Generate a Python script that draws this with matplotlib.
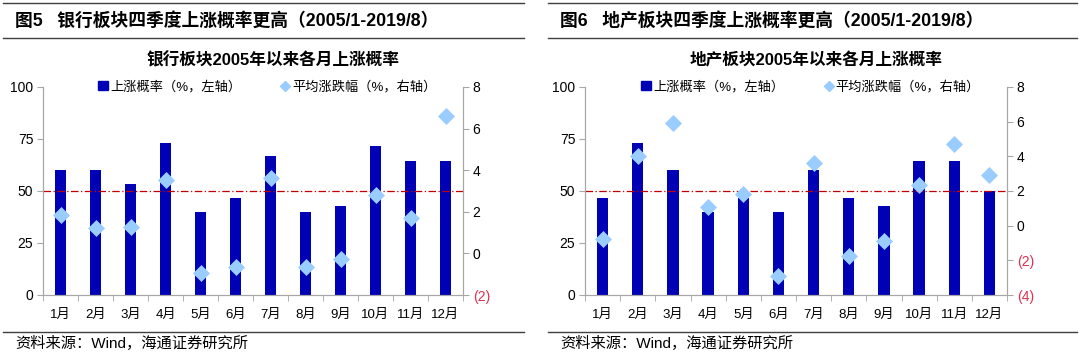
import numpy as np
import matplotlib.pyplot as plt
from matplotlib.lines import Line2D
from matplotlib.patches import Patch

plt.rcParams['font.family'] = ['Liberation Sans', 'Noto Sans CJK SC', 'DejaVu Sans']

# datos
meses = ['1月', '2月', '3月', '4月', '5月', '6月', '7月', '8月', '9月', '10月', '11月', '12月']

banco_prob = [60, 60, 53.3, 73.3, 40, 46.7, 66.7, 40, 42.9, 71.4, 64.3, 64.3]
banco_ret = [1.84, 1.23, 1.28, 3.52, -0.93, -0.64, 3.63, -0.67, -0.27, 2.83, 1.68, 6.61]

inmo_prob = [46.7, 73.3, 60, 40, 46.7, 40, 60, 46.7, 42.9, 64.3, 64.3, 50]
inmo_ret = [-0.76, 4.0, 5.95, 1.05, 1.8, -2.89, 3.6, -1.73, -0.87, 2.37, 4.7, 2.93]

titulos = ['图5   银行板块四季度上涨概率更高（2005/1-2019/8）',
           '图6   地产板块四季度上涨概率更高（2005/1-2019/8）']
subtitulos = ['银行板块2005年以来各月上涨概率', '地产板块2005年以来各月上涨概率']
fuente = '资料来源：Wind，海通证券研究所'

AZUL = '#0000b4'
CELESTE = '#99ccff'
ROJO = '#c00000'
GRIS = '#a6a6a6'
FAM = ['Liberation Sans', 'Noto Sans CJK SC']

W, H = 1080, 356
fig = plt.figure(figsize=(W / 100, H / 100), dpi=100)


def px(x0, y0, w, h):
    # rectangulo en pixeles (desde arriba) -> coordenadas de figura
    return [x0 / W, 1 - (y0 + h) / H, w / W, h / H]


def panel(x0, ax_x, ax_w, prob, ret, ylim2, ticks2, titulo, subtitulo, linea_x1):
    # lineas y textos del marco
    for yl in [3, 38, 332]:
        fig.add_artist(Line2D([x0 / W, linea_x1 / W], [1 - yl / H, 1 - yl / H], color='#404040', lw=1))
    fig.text((x0 + 12) / W, 1 - 21 / H, titulo, fontsize=12.8, fontweight='bold',
             va='center', ha='left', family=FAM)
    fig.text((ax_x + ax_w / 2 + 20) / W, 1 - 60 / H, subtitulo, fontsize=12, fontweight='bold',
             va='center', ha='center', family=FAM)
    fig.text((x0 + 12) / W, 1 - 343 / H, fuente, fontsize=11, va='center', ha='left',
             family=FAM)

    ax = fig.add_axes(px(ax_x, 87, ax_w, 208))
    x = np.arange(len(meses))
    ax.bar(x, prob, width=0.32, color=AZUL, zorder=2)
    ax.axhline(50, color=ROJO, lw=0.9, ls=(0, (6, 2, 1, 2)), zorder=3)
    ax.set_xlim(-0.5, len(meses) - 0.5)
    ax.set_ylim(0, 100)
    ax.set_yticks([0, 25, 50, 75, 100])
    ax.set_xticks(x)
    ax.set_xticklabels(meses, fontsize=9.5, family=FAM)
    ax.set_xticks(np.arange(-0.5, len(meses)), minor=True)
    ax.tick_params(axis='x', which='major', length=0, pad=10)
    ax.tick_params(axis='x', which='minor', length=4, color=GRIS, direction='out')
    ax.tick_params(axis='y', length=4, color=GRIS, labelsize=10, pad=3)
    ax.spines['top'].set_visible(False)
    for s in ['left', 'right', 'bottom']:
        ax.spines[s].set_color(GRIS)

    ax2 = ax.twinx()
    ax2.scatter(x, ret, marker='D', s=75, color=CELESTE, zorder=4, linewidths=0)
    ax2.set_ylim(*ylim2)
    ax2.set_yticks(ticks2)
    ax2.set_yticklabels(['(%d)' % -t if t < 0 else '%d' % t for t in ticks2])
    for lab, t in zip(ax2.get_yticklabels(), ticks2):
        if t < 0:
            lab.set_color('#e03050')
    ax2.tick_params(axis='y', length=4, color=GRIS, labelsize=10, pad=3)
    ax2.spines['top'].set_visible(False)
    for s in ['left', 'right', 'bottom']:
        ax2.spines[s].set_color(GRIS)

    handles = [Patch(color=AZUL), Line2D([], [], marker='D', ls='', color=CELESTE, markersize=5)]
    ax.legend(handles, ['上涨概率（%，左轴）', '平均涨跌幅（%，右轴）'], loc='center',
              bbox_to_anchor=(0.535, 1.0), ncol=2, frameon=False,
              handlelength=0.7, handleheight=0.7, handletextpad=0.2, columnspacing=3,
              prop={'family': FAM, 'size': 9.5})


panel(3, 43, 420, banco_prob, banco_ret, (-2, 8), [-2, 0, 2, 4, 6, 8],
      titulos[0], subtitulos[0], 524)
panel(548, 585, 422, inmo_prob, inmo_ret, (-4, 8), [-4, -2, 0, 2, 4, 6, 8],
      titulos[1], subtitulos[1], 1077)

fig.savefig('out.png', dpi=100)
